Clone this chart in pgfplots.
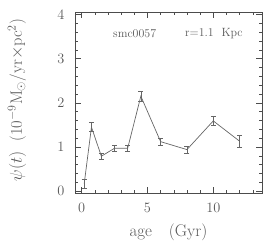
\documentclass[border=0pt]{standalone}
\usepackage{pgfplots}
\pgfplotsset{compat=1.18}
\begin{document}
\begin{tikzpicture}
\begin{axis}[
 name=main,
 scale only axis, width=187bp, height=181bp,
 xmin=-0.5, xmax=13.7, ymin=-0.05, ymax=4.05,
 xtick={0,5,10}, minor xtick={1,2,3,4,6,7,8,9,11,12,13},
 ytick={0,1,2,3,4}, minor y tick num=4,
 tick align=inside, major tick length=6bp, minor tick length=3bp,
 axis line style={black!70}, every tick/.style={black!70},
 tick label style={font=\fontsize{15}{17}\selectfont, text=black!65},
 xticklabel style={yshift=-6bp},
 yticklabel style={xshift=-7bp},
 xlabel={age\quad(Gyr)},
 ylabel={$\psi(t)$\ \ (10$^{-9}$M$_\odot$/yr$\times$pc$^2$)},
 label style={text=black!65},
 xlabel style={font=\fontsize{17}{20}\selectfont, at={(axis description cs:0.5,-0.215)}, anchor=center},
 ylabel style={font=\fontsize{16.5}{19}\selectfont, at={(axis description cs:-0.31,0.515)}, anchor=center},
]
\addplot[black!60, line width=0.7pt, mark=none,
  error bars/.cd, y dir=both, y explicit,
  error bar style={black!60, line width=0.5pt},
  error mark options={black!60, mark size=2.5bp, rotate=90}]
 table[x=x, y=y, y error=e] {
 x y e
 0.2 0.17 0.10
 0.75 1.45 0.10
 1.5 0.79 0.06
 2.5 0.97 0.07
 3.5 0.97 0.07
 4.5 2.15 0.12
 6 1.12 0.08
 8 0.94 0.08
 10 1.59 0.10
 12 1.13 0.14
 };
\node[font=\fontsize{12}{14}\selectfont, text=black!65] at (axis cs:4.03,3.57) {smc0057};
\node[font=\fontsize{12}{14}\selectfont, text=black!65] at (axis cs:10.05,3.57) {r=1.1\ \ Kpc};
\end{axis}
\pgfresetboundingbox
\path ([xshift=-75bp,yshift=-51.7bp]main.south west) rectangle ([xshift=11bp,yshift=12.3bp]main.north east);
\end{tikzpicture}
\end{document}
